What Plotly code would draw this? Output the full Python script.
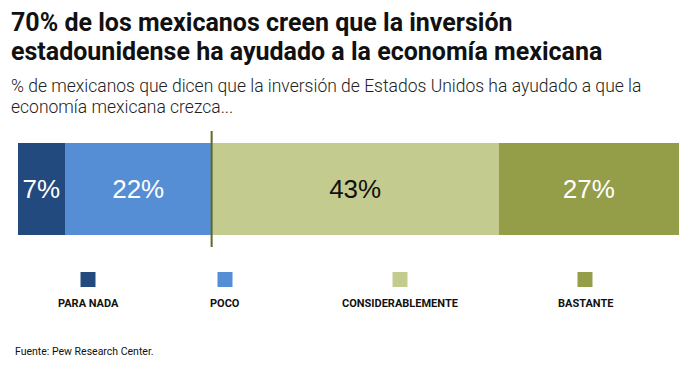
import plotly.graph_objects as go

categories = ["PARA NADA", "POCO", "CONSIDERABLEMENTE", "BASTANTE"]
values = [7, 22, 43, 27]
labels = ["7%", "22%", "43%", "27%"]
colors = ["#234a7e", "#558ed5", "#c4cb8f", "#949d48"]
text_colors = ["white", "white", "#111111", "white"]

W, H = 700, 375
OFF = 8  # page body margin offset
# desired page-pixel plot area: x 18..679, y 131..247
PL, PR, PT, PB = 18, 679, 131, 247
L = PL - OFF
T = PT - OFF
R = W - (PR - OFF)
B = H - (PB - OFF)
pw = PR - PL
ph = PB - PT

def px_x(x):
    return (x - PL) / pw

def px_y(y):
    return (PB - y) / ph

fig = go.Figure()
for cat, v, lab, c, tc in zip(categories, values, labels, colors, text_colors):
    fig.add_trace(go.Bar(
        y=["row"], x=[v], orientation="h", name=cat,
        marker=dict(color=c, line=dict(width=0)),
        text=[lab], textposition="inside", insidetextanchor="middle",
        textfont=dict(family="Liberation Sans, Arial", size=26, color=tc),
        width=0.8, hoverinfo="skip", showlegend=False,
    ))

total = sum(values)
fig.update_layout(
    width=W, height=H, barmode="stack",
    margin=dict(l=L, r=R, t=T, b=B),
    paper_bgcolor="white", plot_bgcolor="white",
    xaxis=dict(range=[0, total], visible=False, fixedrange=True),
    yaxis=dict(range=[-0.5, 0.5], visible=False, fixedrange=True),
)

# divider line between negative and positive answers
fig.add_shape(type="line", xref="x", yref="paper",
              x0=values[0] + values[1], x1=values[0] + values[1], y0=0, y1=1,
              line=dict(color="#5d6a2a", width=2))

# legend: squares above labels
legend_centers = [88, 225, 400, 585]
for cx, cat, c in zip(legend_centers, categories, colors):
    fig.add_shape(type="rect", xref="paper", yref="paper",
                  x0=px_x(cx - 7.5), x1=px_x(cx + 7.5),
                  y0=px_y(287), y1=px_y(272),
                  fillcolor=c, line=dict(width=0))
    fig.add_annotation(xref="paper", yref="paper", x=px_x(cx), y=px_y(303),
                       text=f"<b>{cat}</b>", showarrow=False,
                       xanchor="center", yanchor="middle",
                       font=dict(family="Roboto", size=11, color="#111111"))

title_lines = ["70% de los mexicanos creen que la inversión",
               "estadounidense ha ayudado a la economía mexicana"]
for yy, line in zip([23, 51], title_lines):
    fig.add_annotation(xref="paper", yref="paper", x=px_x(9), y=px_y(yy),
                       xanchor="left", yanchor="middle", align="left", showarrow=False,
                       text=f"<b>{line}</b>",
                       font=dict(family="Roboto", size=25, color="#111111"))

sub_lines = ["% de mexicanos que dicen que la inversión de Estados Unidos ha ayudado a que la",
             "economía mexicana crezca..."]
for yy, line in zip([86, 107], sub_lines):
    fig.add_annotation(xref="paper", yref="paper", x=px_x(9), y=px_y(yy),
                       xanchor="left", yanchor="middle", align="left", showarrow=False,
                       text=line,
                       font=dict(family="Roboto", size=17.5, color="#222222", weight=300))

fig.add_annotation(xref="paper", yref="paper", x=px_x(13), y=px_y(351),
                   xanchor="left", yanchor="middle", align="left", showarrow=False,
                   text="Fuente: Pew Research Center.",
                   font=dict(family="Roboto", size=10.5, color="#111111"))

fig.write_html("out.html")
